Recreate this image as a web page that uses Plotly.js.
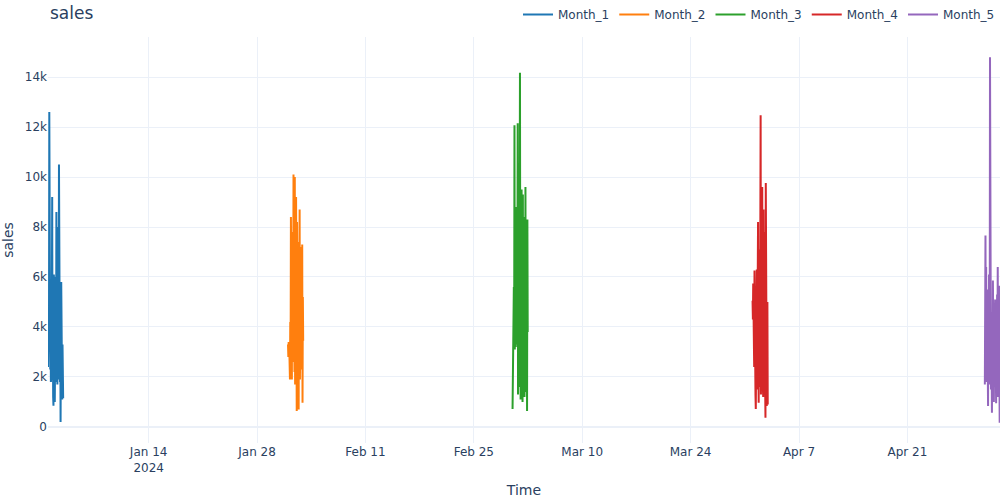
<!DOCTYPE html>
<html>
<head>
<meta charset="utf-8">
<script src="https://cdn.plot.ly/plotly-3.0.1.min.js"></script>
<style>
  html, body { margin: 0; padding: 0; background: #fff; }
  #chart { width: 1000px; height: 500px; }
</style>
</head>
<body>
<div id="chart"></div>
<script>
// one series per month, 48 hourly readings starting on the 1st
const monthNames = ['Month_1', 'Month_2', 'Month_3', 'Month_4', 'Month_5'];
const monthStarts = ['2024-01-01', '2024-02-01', '2024-03-01', '2024-04-01', '2024-05-01'];
const colors = ['#1f77b4', '#ff7f0e', '#2ca02c', '#d62728', '#9467bd'];

const month1 = [2400, 3600, 4800, 3400, 12600, 3600, 5100, 2300, 4200, 1800, 3900, 2200,
  5000, 9200, 1900, 4600, 1200, 850, 6100, 1900, 5600, 1000, 4500, 2300,
  6000, 1800, 8600, 2000, 4300, 1700, 8000, 2100, 5200, 1900, 10500, 3100,
  6200, 1800, 4400, 200, 3500, 5800, 1500, 4900, 1100, 3300, 1200, 1150];
const month2 = [3300, 2800, 3400, 2900, 3100, 2400, 1900, 4200, 2500, 8400, 2000, 6500,
  1900, 7800, 2600, 5400, 3100, 10100, 2700, 7600, 2200, 10000, 1700, 6900,
  2900, 9200, 1500, 640, 8200, 2400, 5900, 1300, 7400, 700, 6100, 2800,
  8700, 1900, 5600, 3600, 7200, 2300, 6400, 3900, 7300, 970, 5200, 3450];
const month3 = [720, 2300, 2500, 3100, 5600, 3300, 12070, 3100, 7400, 4200, 3200, 8800,
  3600, 6900, 3300, 5200, 12150, 1300, 9800, 3400, 8200, 1600, 6300, 14170,
  4600, 1100, 7900, 3400, 9500, 2600, 8800, 1000, 9300, 2100, 7600, 3700,
  8400, 1200, 6900, 2600, 9600, 1400, 7300, 3000, 8100, 640, 8300, 3800];
const month4 = [5050, 4300, 5740, 3700, 5200, 2400, 6260, 1800, 4600, 1300, 720, 5100,
  2200, 6300, 1500, 4800, 2600, 8200, 3100, 970, 7100, 2300, 5900, 1600,
  7600, 12470, 1300, 8900, 2800, 6200, 9600, 1900, 5300, 1200, 8700, 2500,
  6400, 3500, 7800, 1600, 370, 9760, 2000, 5600, 840, 3900, 5000, 900];
const month5 = [1700, 3900, 7660, 2600, 6400, 4400, 1800, 5500, 3300, 2400, 840, 4700,
  2000, 6100, 3200, 1700, 14790, 2900, 5300, 1500, 4600, 2700, 570, 3800,
  1900, 5860, 2500, 4400, 1000, 3600, 1600, 4200, 5100, 2100, 3500, 950,
  4700, 1800, 5300, 2400, 6400, 1200, 4100, 2600, 5650, 1400, 170, 4500];
const sales = [month1, month2, month3, month4, month5];

function hourlyTimes(start, n) {
  const t0 = new Date(start + 'T00:00:00Z').getTime();
  const out = [];
  for (let i = 0; i < n; i++) {
    out.push(new Date(t0 + i * 3600000).toISOString().slice(0, 19).replace('T', ' '));
  }
  return out;
}

const traces = sales.map((vals, i) => ({
  x: hourlyTimes(monthStarts[i], vals.length),
  y: vals,
  type: 'scatter',
  mode: 'lines',
  name: monthNames[i],
  line: {color: colors[i], width: 2}
}));

const gridColor = '#EBF0F8';

const layout = {
  width: 1000,
  height: 500,
  margin: {l: 48, r: 0, t: 37, b: 57},
  paper_bgcolor: '#fff',
  plot_bgcolor: '#fff',
  font: {family: '"DejaVu Sans", verdana, arial, sans-serif', size: 12, color: '#2a3f5f'},
  title: {text: 'sales', x: 0.05, xanchor: 'left', y: 0.985, yanchor: 'top', font: {size: 17}},
  showlegend: true,
  legend: {orientation: 'h', x: 1, xanchor: 'right', y: 1.02, yanchor: 'bottom'},
  xaxis: {
    title: {text: 'Time'},
    type: 'date',
    tick0: '2024-01-14',
    dtick: 14 * 86400000,
    gridcolor: gridColor,
    zerolinecolor: gridColor,
    linecolor: gridColor,
    showline: false,
    ticks: ''
  },
  yaxis: {
    title: {text: 'sales'},
    dtick: 2000,
    gridcolor: gridColor,
    zerolinecolor: gridColor,
    zerolinewidth: 2,
    ticks: ''
  }
};

Plotly.newPlot('chart', traces, layout, {staticPlot: true});
</script>
</body>
</html>
